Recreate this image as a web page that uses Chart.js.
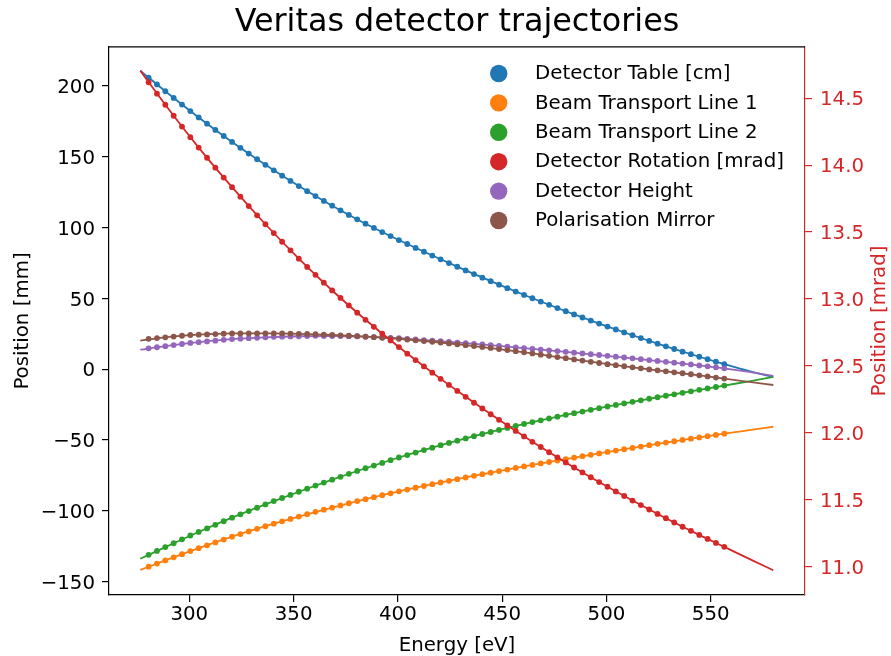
<!DOCTYPE html>
<html>
<head>
<meta charset="utf-8">
<script src="https://cdn.jsdelivr.net/npm/chart.js@4/dist/chart.umd.min.js"></script>
<style>
html,body{margin:0;padding:0;background:#fff;}
#wrap{width:891px;height:656px;}
</style>
</head>
<body>
<div id="wrap"><canvas id="c" width="891" height="656"></canvas></div>
<script>
// ---------- data ----------
const energies = [280.5, 284.5, 288.5, 292.5, 296.5, 300.5, 304.5, 308.5, 312.5, 316.5,
  320.5, 324.5, 328.5, 332.5, 336.5, 340.5, 344.5, 348.5, 352.5, 356.5,
  360.5, 364.5, 368.5, 372.5, 376.5, 380.5, 384.5, 388.5, 392.5, 396.5,
  400.5, 404.5, 408.5, 412.5, 416.5, 420.5, 424.5, 428.5, 432.5, 436.5,
  440.5, 444.5, 448.5, 452.5, 456.5, 460.5, 464.5, 468.5, 472.5, 476.5,
  480.5, 484.5, 488.5, 492.5, 496.5, 500.5, 504.5, 508.5, 512.5, 516.5,
  520.5, 524.5, 528.5, 532.5, 536.5, 540.5, 544.5, 548.5, 552.5, 556.5];

const fitEnergies = [276.5, 288.5, 304.5, 320.5, 336.5, 352.5, 368.5, 384.5, 400.5, 416.5,
  432.5, 448.5, 464.5, 480.5, 496.5, 512.5, 528.5, 544.5, 556.5, 568.5, 580];

const detectorTable = [206.0, 201.13, 196.32, 191.60, 186.94, 182.36, 177.84, 173.40, 169.04, 164.74,
  160.52, 156.37, 152.29, 148.29, 144.36, 140.50, 136.71, 132.99, 129.35, 125.78,
  122.28, 118.85, 115.50, 112.22, 109.01, 105.88, 102.81, 99.82, 96.90, 94.05,
  91.24, 88.46, 85.71, 82.99, 80.30, 77.63, 74.99, 72.38, 69.79, 67.24,
  64.71, 62.21, 59.74, 57.30, 54.88, 52.50, 50.14, 47.81, 45.50, 43.23,
  40.98, 38.76, 36.57, 34.40, 32.27, 30.16, 28.08, 26.03, 24.01, 22.01,
  20.04, 18.10, 16.19, 14.31, 12.45, 10.63, 8.83, 7.06, 5.31, 3.59];
const beamLine1 = [-139.4, -137.2, -135.0, -132.8, -130.6, -128.4, -126.36, -124.32, -122.28, -120.24,
  -118.2, -116.36, -114.52, -112.68, -110.84, -109.0, -107.34, -105.68, -104.02, -102.36,
  -100.7, -99.18, -97.66, -96.14, -94.62, -93.1, -91.72, -90.34, -88.96, -87.58,
  -86.2, -84.94, -83.68, -82.42, -81.16, -79.9, -78.74, -77.58, -76.42, -75.26,
  -74.1, -73.0, -71.9, -70.8, -69.7, -68.6, -67.56, -66.51, -65.47, -64.42,
  -63.4, -62.4, -61.4, -60.4, -59.4, -58.4, -57.44, -56.48, -55.52, -54.56,
  -53.6, -52.68, -51.76, -50.84, -49.92, -49.0, -48.11, -47.22, -46.33, -45.45];
const beamLine2 = [-131.0, -128.28, -125.56, -122.84, -120.12, -117.4, -114.88, -112.36, -109.84, -107.32,
  -104.8, -102.46, -100.12, -97.78, -95.44, -93.1, -90.9, -88.7, -86.5, -84.3,
  -82.1, -80.04, -77.98, -75.92, -73.86, -71.8, -69.9, -68.0, -66.1, -64.2,
  -62.3, -60.56, -58.82, -57.08, -55.34, -53.6, -52.02, -50.44, -48.86, -47.28,
  -45.7, -44.28, -42.86, -41.44, -40.02, -38.6, -37.32, -36.04, -34.76, -33.48,
  -32.2, -31.02, -29.84, -28.66, -27.48, -26.3, -25.2, -24.1, -23.0, -21.9,
  -20.8, -19.75, -18.7, -17.66, -16.61, -15.56, -14.54, -13.53, -12.51, -11.5];
const detectorRotation = [14.619, 14.534, 14.451, 14.369, 14.288, 14.209, 14.131, 14.055, 13.981, 13.907,
  13.835, 13.764, 13.694, 13.625, 13.558, 13.492, 13.427, 13.363, 13.301, 13.239,
  13.180, 13.121, 13.063, 13.007, 12.951, 12.897, 12.844, 12.791, 12.740, 12.690,
  12.640, 12.591, 12.543, 12.495, 12.449, 12.403, 12.357, 12.312, 12.268, 12.224,
  12.181, 12.138, 12.096, 12.054, 12.013, 11.972, 11.932, 11.893, 11.854, 11.816,
  11.778, 11.740, 11.703, 11.667, 11.631, 11.596, 11.561, 11.527, 11.493, 11.459,
  11.426, 11.393, 11.361, 11.329, 11.297, 11.267, 11.236, 11.206, 11.176, 11.147];
const detectorHeight = [14.8, 15.56, 16.32, 17.08, 17.84, 18.6, 19.14, 19.68, 20.22, 20.76,
  21.3, 21.62, 21.94, 22.26, 22.58, 22.9, 23.04, 23.18, 23.32, 23.46,
  23.6, 23.54, 23.48, 23.42, 23.36, 23.3, 23.02, 22.74, 22.46, 22.18,
  21.9, 21.48, 21.06, 20.64, 20.22, 19.8, 19.34, 18.88, 18.42, 17.96,
  17.5, 17.0, 16.5, 16.0, 15.5, 15.0, 14.46, 13.92, 13.38, 12.84,
  12.3, 11.74, 11.18, 10.62, 10.06, 9.5, 8.9, 8.3, 7.7, 7.1,
  6.5, 5.88, 5.26, 4.64, 4.02, 3.4, 2.73, 2.05, 1.38, 0.7];
const polarisationMirror = [21.5, 22.04, 22.58, 23.12, 23.66, 24.2, 24.42, 24.64, 24.86, 25.08,
  25.3, 25.32, 25.34, 25.36, 25.38, 25.4, 25.28, 25.16, 25.04, 24.92,
  24.8, 24.52, 24.24, 23.96, 23.68, 23.4, 23.02, 22.64, 22.26, 21.88,
  21.5, 20.98, 20.46, 19.94, 19.42, 18.9, 18.28, 17.66, 17.04, 16.42,
  15.8, 15.04, 14.28, 13.52, 12.76, 12.0, 11.16, 10.32, 9.48, 8.64,
  7.8, 6.96, 6.12, 5.28, 4.44, 3.6, 2.86, 2.12, 1.38, 0.64,
  -0.1, -0.78, -1.46, -2.14, -2.82, -3.5, -4.28, -5.05, -5.83, -6.6];

const detectorTableFit = [210.9, 196.32, 177.84, 160.52, 144.36, 129.35, 115.50, 102.81, 91.24, 80.30,
  69.79, 59.74, 50.14, 40.98, 32.27, 24.01, 16.19, 8.83, 3.59, -1.38, -5.5];
const beamLine1Fit = [-141.7, -135.0, -126.36, -118.2, -110.84, -104.02, -97.66, -91.72, -86.2, -81.16,
  -76.42, -71.9, -67.56, -63.4, -59.4, -55.52, -51.76, -48.11, -45.45, -42.95, -40.6];
const beamLine2Fit = [-133.8, -125.56, -114.88, -104.8, -95.44, -86.5, -77.98, -69.9, -62.3, -55.34,
  -48.86, -42.86, -37.32, -32.2, -27.48, -23.0, -18.7, -14.54, -11.5, -8.5, -5.3];
const detectorRotationFit = [14.706, 14.451, 14.131, 13.835, 13.558, 13.301, 13.063, 12.844, 12.640, 12.449,
  12.268, 12.096, 11.932, 11.778, 11.631, 11.493, 11.361, 11.236, 11.147, 11.057, 10.972];
const detectorHeightFit = [13.8, 16.32, 19.14, 21.3, 22.58, 23.32, 23.48, 23.02, 21.9, 20.22,
  18.42, 16.5, 14.46, 12.3, 10.06, 7.7, 5.26, 2.73, 0.7, -1.9, -4.7];
const polarisationMirrorFit = [20.3, 22.58, 24.42, 25.3, 25.38, 25.04, 24.24, 23.02, 21.5, 19.42,
  17.04, 14.28, 11.16, 7.8, 4.44, 1.38, -1.46, -4.28, -6.6, -8.9, -11.1];

const seriesNames = ['Detector Table [cm]', 'Beam Transport Line 1', 'Beam Transport Line 2',
  'Detector Rotation [mrad]', 'Detector Height', 'Polarisation Mirror'];
const xTicks = [300, 350, 400, 450, 500, 550];
const yTicks = [-150, -100, -50, 0, 50, 100, 150, 200];
const y2Ticks = [11.0, 11.5, 12.0, 12.5, 13.0, 13.5, 14.0, 14.5];

// ---------- styling ----------
const COLORS = ['#1f77b4', '#ff7f0e', '#2ca02c', '#d62728', '#9467bd', '#8c564b'];
const FONT = 'DejaVu Sans';
const FS = 19.8;
Chart.defaults.font.family = FONT;

const dotSets = [detectorTable, beamLine1, beamLine2, detectorRotation, detectorHeight, polarisationMirror];
const fitSets = [detectorTableFit, beamLine1Fit, beamLine2Fit, detectorRotationFit, detectorHeightFit, polarisationMirrorFit];

function pts(xs, ys) { return xs.map((x, i) => ({ x: x, y: ys[i] })); }

// draw order: red on top, then brown, purple, green, orange, blue
const drawOrder = [3, 5, 4, 2, 1, 0];
const datasets = [];
drawOrder.forEach(i => {
  const axis = i === 3 ? 'y2' : 'y';
  datasets.push({
    label: seriesNames[i], data: pts(energies, dotSets[i]), yAxisID: axis,
    showLine: false, pointRadius: 2.9, pointBorderWidth: 0,
    pointBackgroundColor: COLORS[i], borderColor: COLORS[i], backgroundColor: COLORS[i]
  });
  datasets.push({
    label: seriesNames[i] + ' fit', data: pts(fitEnergies, fitSets[i]), yAxisID: axis,
    showLine: true, pointRadius: 0, borderWidth: 1.8, borderColor: COLORS[i],
    backgroundColor: COLORS[i], cubicInterpolationMode: 'monotone', fill: false
  });
});

const extras = {
  id: 'mplExtras',
  afterDatasetsDraw(chart) {
    const ctx = chart.ctx, a = chart.chartArea;
    ctx.save();
    // top spine
    ctx.strokeStyle = '#000'; ctx.lineWidth = 1.2;
    ctx.beginPath(); ctx.moveTo(a.left, a.top); ctx.lineTo(a.right, a.top); ctx.stroke();
    // legend
    ctx.font = FS + 'px "' + FONT + '"';
    ctx.textBaseline = 'middle'; ctx.textAlign = 'left';
    seriesNames.forEach((name, i) => {
      const y = 73.5 + i * 29.4;
      ctx.beginPath(); ctx.arc(498.7, y, 8.7, 0, Math.PI * 2);
      ctx.fillStyle = COLORS[i]; ctx.fill();
      ctx.fillStyle = '#000'; ctx.fillText(name, 535, y + 0.5);
    });
    // right axis title (reads bottom-to-top)
    ctx.translate(880, (a.top + a.bottom) / 2);
    ctx.rotate(-Math.PI / 2);
    ctx.textAlign = 'center';
    ctx.fillStyle = '#d62728';
    ctx.fillText('Position [mrad]', 0, 0);
    ctx.restore();
  }
};

const minusFmt = v => (v < 0 ? '\u2212' + Math.abs(v) : String(v));

new Chart(document.getElementById('c'), {
  type: 'scatter',
  data: { datasets: datasets },
  plugins: [extras],
  options: {
    responsive: false, animation: false, devicePixelRatio: 1,
    layout: { padding: 0 },
    plugins: {
      legend: { display: false },
      tooltip: { enabled: false },
      title: {
        display: true, text: 'Veritas detector trajectories', fullSize: false, color: '#000',
        font: { family: FONT, size: 31.8, weight: 'normal', lineHeight: 1.2 },
        padding: { top: 3.4, bottom: 5.4 }
      }
    },
    scales: {
      x: {
        type: 'linear', position: 'bottom', min: 261.5, max: 595.2,
        afterBuildTicks: s => { s.ticks = xTicks.map(v => ({ value: v })); },
        afterFit: s => { s.height = 61; },
        grid: { drawOnChartArea: false, drawTicks: true, tickLength: 7, color: '#000', lineWidth: 1.2 },
        border: { display: true, color: '#000', width: 1.2 },
        ticks: { color: '#000', font: { size: FS }, padding: 1, maxRotation: 0, callback: v => minusFmt(v) },
        title: { display: true, text: 'Energy [eV]', color: '#000', font: { size: FS, lineHeight: 1 }, padding: { top: 0, bottom: 0.5 } }
      },
      y: {
        type: 'linear', position: 'left', min: -159.4, max: 227.6,
        afterBuildTicks: s => { s.ticks = yTicks.map(v => ({ value: v })); },
        afterFit: s => { s.width = 109; },
        grid: { drawOnChartArea: false, drawTicks: true, tickLength: 7, color: '#000', lineWidth: 1.2 },
        border: { display: true, color: '#000', width: 1.2 },
        ticks: { color: '#000', font: { size: FS }, padding: 7, labelOffset: 2, callback: v => minusFmt(v) },
        title: { display: true, text: 'Position [mm]', color: '#000', font: { size: FS, lineHeight: 1 }, padding: { top: 12.7, bottom: 0 } }
      },
      y2: {
        type: 'linear', position: 'right', min: 10.787, max: 14.883,
        afterBuildTicks: s => { s.ticks = y2Ticks.map(v => ({ value: v })); },
        afterFit: s => { s.width = 86; },
        grid: { drawOnChartArea: false, drawTicks: true, tickLength: 7, color: '#d62728', lineWidth: 1.2 },
        border: { display: true, color: '#b8312f', width: 1.2 },
        ticks: { color: '#d62728', font: { size: FS }, padding: 8, labelOffset: 2, callback: v => Number(v).toFixed(1) }
      }
    }
  }
});
</script>
</body>
</html>
